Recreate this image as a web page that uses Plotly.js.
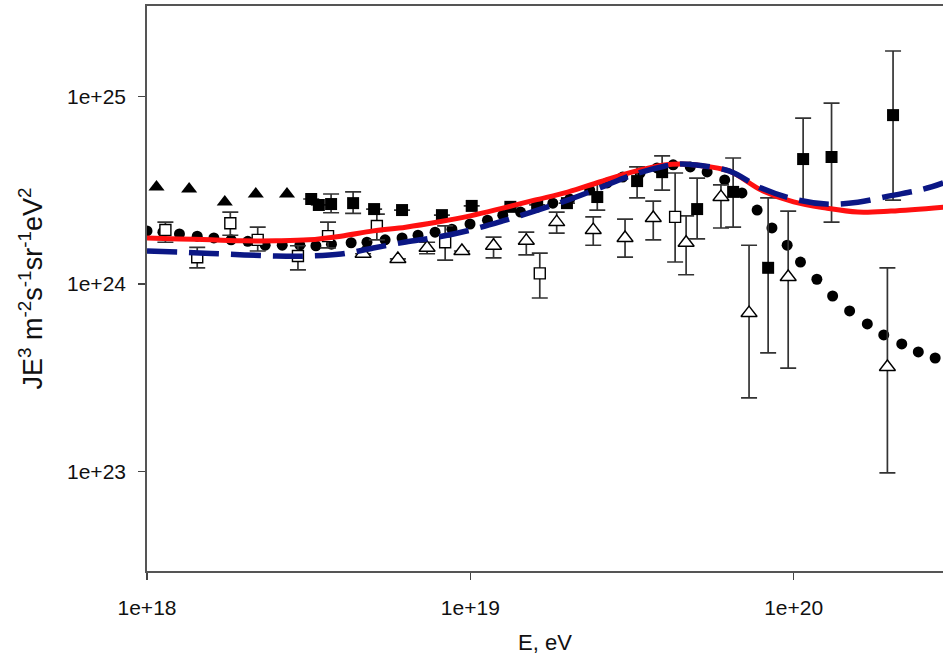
<!DOCTYPE html>
<html>
<head>
<meta charset="utf-8">
<script src="https://cdn.plot.ly/plotly-3.0.1.min.js"></script>
<style>html,body{margin:0;padding:0;background:#fff;}#chart{width:943px;height:668px;}</style>
</head>
<body>
<div id="chart"></div>
<script>
// ---- Filled circles ----
const circE = [1.0e18,1.12e18,1.26e18,1.43e18,1.61e18,1.82e18,2.05e18,2.32e18,2.62e18,2.97e18,3.33e18,3.72e18,4.28e18,4.79e18,5.45e18,6.15e18,6.89e18,7.78e18,8.77e18,9.98e18,1.13e19,1.26e19,1.43e19,1.61e19,1.80e19,2.03e19,2.34e19,2.65e19,2.96e19,3.35e19,3.78e19,4.24e19,4.79e19,5.40e19,6.12e19,6.92e19,7.71e19,8.57e19,9.55e19,1.05e20,1.18e20,1.32e20,1.49e20,1.69e20,1.90e20,2.16e20,2.43e20,2.74e20];
const circJ = [1.92e24,1.89e24,1.85e24,1.80e24,1.76e24,1.72e24,1.69e24,1.61e24,1.61e24,1.61e24,1.60e24,1.63e24,1.66e24,1.67e24,1.72e24,1.76e24,1.82e24,1.89e24,1.96e24,2.09e24,2.19e24,2.33e24,2.42e24,2.57e24,2.70e24,2.84e24,3.17e24,3.46e24,3.72e24,3.91e24,4.16e24,4.32e24,4.21e24,3.96e24,3.59e24,3.06e24,2.48e24,1.99e24,1.61e24,1.31e24,1.06e24,8.63e23,7.18e23,6.12e23,5.35e23,4.79e23,4.34e23,4.03e23];

// ---- Filled triangles ----
const ftriE = [1.07e18,1.35e18,1.74e18,2.17e18,2.71e18];
const ftriJ = [3.29e24,3.21e24,2.74e24,3.02e24,3.02e24];

// ---- Filled squares (value, upper, lower) ----
const fsqE  = [3.22e18,3.40e18,3.71e18,4.34e18,5.04e18,6.15e18,8.17e18,1.01e19,1.33e19,1.61e19,1.99e19,2.47e19,3.28e19,3.92e19,5.03e19,6.50e19,8.34e19,1.07e20,1.31e20,2.03e20];
const fsqJ  = [2.84e24,2.64e24,2.67e24,2.70e24,2.51e24,2.48e24,2.33e24,2.61e24,2.58e24,2.64e24,2.70e24,2.91e24,3.54e24,3.95e24,2.51e24,3.10e24,1.22e24,4.64e24,4.76e24,7.96e24];
const fsqHi = [2.84e24,2.64e24,3.02e24,3.10e24,2.51e24,2.48e24,2.33e24,2.61e24,2.58e24,2.64e24,2.70e24,3.41e24,4.21e24,4.82e24,3.67e24,4.70e24,2.88e24,7.68e24,9.22e24,1.75e25];
const fsqLo = [2.84e24,2.64e24,2.40e24,2.38e24,2.51e24,2.48e24,2.33e24,2.61e24,2.58e24,2.64e24,2.70e24,2.48e24,2.88e24,3.17e24,1.74e24,2.01e24,4.29e23,2.74e24,2.14e24,2.80e24];

// ---- Open squares (value, upper, lower) ----
const osqE  = [1.14e18,1.43e18,1.81e18,2.20e18,2.93e18,3.63e18,5.14e18,8.36e18,1.64e19,4.30e19];
const osqJ  = [1.94e24,1.39e24,2.11e24,1.72e24,1.41e24,1.80e24,2.04e24,1.67e24,1.14e24,2.28e24];
const osqHi = [2.14e24,1.57e24,2.42e24,2.01e24,1.60e24,2.14e24,2.36e24,2.04e24,1.46e24,3.91e24];
const osqLo = [1.67e24,1.22e24,1.82e24,1.50e24,1.19e24,1.56e24,1.72e24,1.34e24,8.42e23,1.31e24];

// ---- Open triangles (value, upper, lower) ----
const otriE  = [4.66e18,5.97e18,7.35e18,9.42e18,1.18e19,1.49e19,1.85e19,2.40e19,3.01e19,3.68e19,4.65e19,5.96e19,7.28e19,9.62e19,1.95e20];
const otriJ  = [1.45e24,1.36e24,1.56e24,1.50e24,1.60e24,1.70e24,2.14e24,1.94e24,1.76e24,2.25e24,1.66e24,2.91e24,7.00e23,1.09e24,3.61e23];
const otriHi = [1.45e24,1.36e24,1.67e24,1.50e24,1.78e24,1.89e24,2.42e24,2.28e24,2.22e24,2.77e24,2.31e24,3.38e24,1.61e24,2.45e24,1.22e24];
const otriLo = [1.45e24,1.36e24,1.45e24,1.50e24,1.38e24,1.43e24,1.87e24,1.61e24,1.39e24,1.72e24,1.12e24,1.99e24,2.47e23,3.56e23,9.82e22];

// ---- Red solid curve ----
const redE = [1e18,1.26e18,1.58e18,2.0e18,2.51e18,3.16e18,3.98e18,5.01e18,6.31e18,7.94e18,1e19,1.26e19,1.58e19,2.0e19,2.51e19,3.16e19,3.98e19,4.47e19,5.01e19,6.31e19,7.94e19,1e20,1.26e20,1.58e20,2.0e20,2.9e20];
const redJ = [1.76e24,1.74e24,1.72e24,1.70e24,1.70e24,1.72e24,1.80e24,1.92e24,2.01e24,2.14e24,2.31e24,2.54e24,2.80e24,3.09e24,3.50e24,3.95e24,4.31e24,4.37e24,4.31e24,4.01e24,3.17e24,2.74e24,2.54e24,2.42e24,2.45e24,2.57e24];

// ---- Blue dashed curve ----
const blueE = [1e18,1.26e18,1.58e18,2.0e18,2.51e18,3.16e18,3.98e18,5.01e18,6.31e18,7.94e18,1e19,1.26e19,1.58e19,2.0e19,2.51e19,3.16e19,3.98e19,4.47e19,5.01e19,6.31e19,7.94e19,1e20,1.26e20,1.58e20,2.0e20,2.51e20,2.9e20];
const blueJ = [1.50e24,1.48e24,1.455e24,1.43e24,1.41e24,1.41e24,1.445e24,1.556e24,1.675e24,1.78e24,1.94e24,2.17e24,2.45e24,2.80e24,3.25e24,3.81e24,4.25e24,4.37e24,4.31e24,4.01e24,3.25e24,2.84e24,2.67e24,2.73e24,2.96e24,3.20e24,3.46e24];

// ---- Axis ticks ----
const xTickVals = [1e18,1e19,1e20];
const xTickText = ['1e+18','1e+19','1e+20'];
const yTickVals = [1e23,1e24,1e25];
const yTickText = ['1e+23','1e+24','1e+25'];

function errs(v, hi, lo) {
  return {
    type: 'data', symmetric: false,
    array: v.map((y, i) => hi[i] - y),
    arrayminus: v.map((y, i) => y - lo[i]),
    color: '#333', thickness: 1.7, width: 8
  };
}

const traces = [
  { x: circE, y: circJ, type: 'scatter', mode: 'markers',
    marker: { symbol: 'circle', size: 11, color: '#000' }, name: 'circles' },
  { x: ftriE, y: ftriJ, type: 'scatter', mode: 'markers',
    marker: { symbol: 'triangle-up', size: 14, color: '#000' }, name: 'ftri' },
  { x: otriE, y: otriJ, type: 'scatter', mode: 'markers',
    error_y: errs(otriJ, otriHi, otriLo),
    marker: { symbol: 'triangle-up', size: 14, color: '#fff', line: { color: '#000', width: 1.4 } }, name: 'otri' },
  { x: osqE, y: osqJ, type: 'scatter', mode: 'markers',
    error_y: errs(osqJ, osqHi, osqLo),
    marker: { symbol: 'square', size: 11, color: '#fff', line: { color: '#000', width: 1.4 } }, name: 'osq' },
  { x: fsqE, y: fsqJ, type: 'scatter', mode: 'markers',
    error_y: errs(fsqJ, fsqHi, fsqLo),
    marker: { symbol: 'square', size: 12, color: '#000' }, name: 'fsq' },
  { x: redE, y: redJ, type: 'scatter', mode: 'lines', line: { shape: 'spline', color: '#ff1010', width: 5 }, name: 'red' },
  { x: blueE, y: blueJ, type: 'scatter', mode: 'lines', line: { shape: 'spline', color: '#0b1785', width: 5.5, dash: '30px,12px' }, name: 'blue' }
];

const font = 'Liberation Sans, Arial, sans-serif';
const layout = {
  width: 943, height: 668,
  margin: { l: 147, r: 0, t: 6, b: 97 },
  paper_bgcolor: '#fff', plot_bgcolor: '#fff',
  showlegend: false,
  font: { family: font, color: '#111' },
  xaxis: {
    type: 'log', range: [18, 20.462],
    tickvals: xTickVals, ticktext: xTickText,
    ticks: 'outside', ticklen: 7, tickwidth: 1.5, tickcolor: '#444',
    ticklabelstandoff: 10,
    showline: true, linecolor: '#555', linewidth: 1.8, mirror: true,
    showgrid: false, zeroline: false,
    tickfont: { family: font, size: 21, color: '#111' },
    title: { text: 'E, eV', font: { family: font, size: 22, color: '#111' }, standoff: 16 }
  },
  yaxis: {
    type: 'log', range: [22.469, 25.483],
    tickvals: yTickVals, ticktext: yTickText,
    ticks: 'outside', ticklen: 7, tickwidth: 1.5, tickcolor: '#444',
    ticklabelstandoff: 8,
    showline: true, linecolor: '#555', linewidth: 1.8,
    showgrid: false, zeroline: false,
    tickfont: { family: font, size: 21, color: '#111' },
    title: { text: 'JE<sup>3</sup> m<sup>-2</sup>s<sup>-1</sup>sr<sup>-1</sup>eV<sup>2</sup>', font: { family: font, size: 27, color: '#111' }, standoff: 16 }
  }
};

Plotly.newPlot('chart', traces, layout, { displayModeBar: false, staticPlot: true });
</script>
</body>
</html>
